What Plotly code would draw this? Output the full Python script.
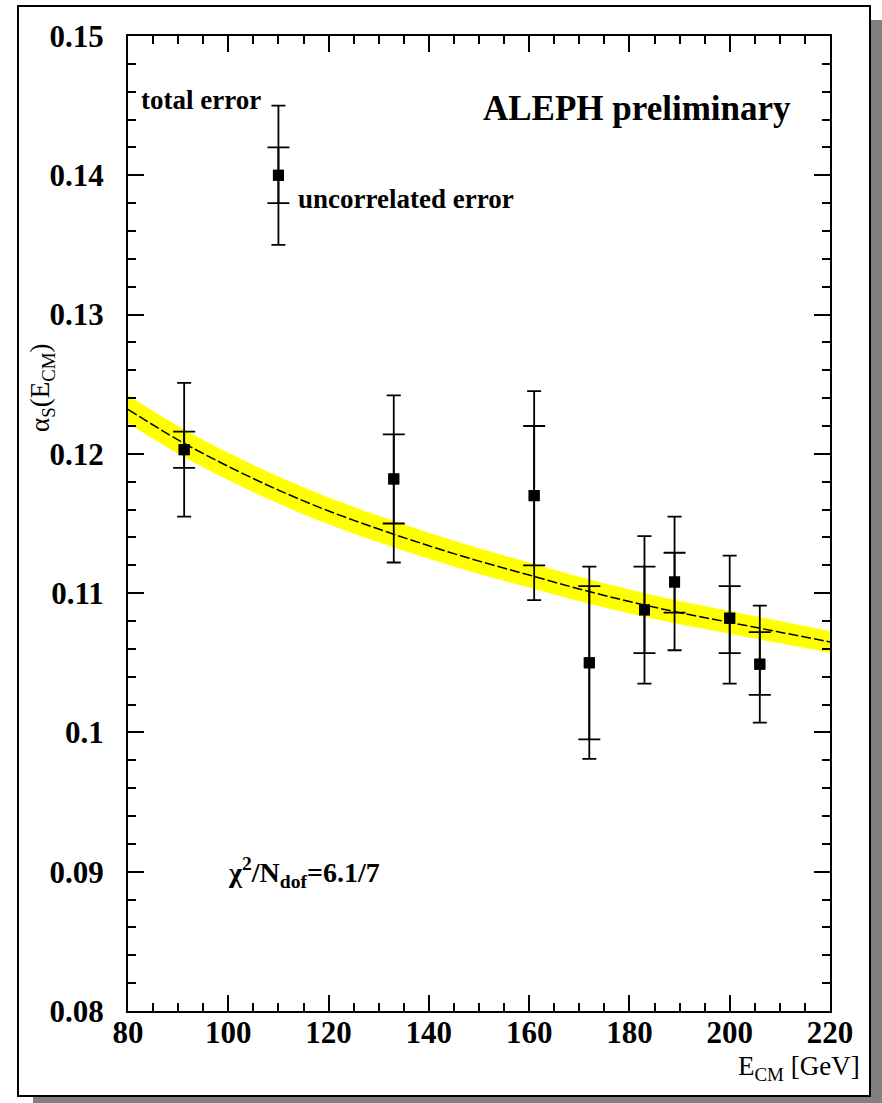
import plotly.graph_objects as go

# ---------------- data ----------------
energy = [91.2, 133.0, 161.0, 172.0, 183.0, 189.0, 200.0, 206.0]
alpha_s = [0.1203, 0.1182, 0.1170, 0.1050, 0.1088, 0.1108, 0.1082, 0.1049]
total_hi = [0.1251, 0.1242, 0.1245, 0.1119, 0.1141, 0.1155, 0.1127, 0.1091]
total_lo = [0.1155, 0.1122, 0.1095, 0.0981, 0.1035, 0.1059, 0.1035, 0.1007]
uncorr_hi = [0.1216, 0.1214, 0.1220, 0.1105, 0.1119, 0.1129, 0.1105, 0.1072]
uncorr_lo = [0.1190, 0.1150, 0.1120, 0.0995, 0.1057, 0.1086, 0.1057, 0.1027]

# legend example point
legend_energy = [110.0]
legend_alpha = [0.140]
legend_total_hi = [0.145]
legend_total_lo = [0.135]
legend_uncorr_hi = [0.142]
legend_uncorr_lo = [0.138]

# fitted running curve and band half-width
fit_energy = [80, 90, 100, 110, 120, 130, 140, 150, 160, 170, 180, 190, 200, 210, 220]
fit_alpha = [0.1232, 0.1210, 0.1191, 0.1174, 0.1159, 0.1146, 0.1134, 0.1123,
             0.1113, 0.1103, 0.1094, 0.1086, 0.1079, 0.1072, 0.1065]
fit_band = [0.00100, 0.00099, 0.00098, 0.00097, 0.00096, 0.00095, 0.00093, 0.00092,
            0.00090, 0.00088, 0.00086, 0.00084, 0.00082, 0.00080, 0.00078]

x_tick_vals = [80, 100, 120, 140, 160, 180, 200, 220]
x_tick_text = ["80", "100", "120", "140", "160", "180", "200", "220"]
y_tick_vals = [0.08, 0.09, 0.10, 0.11, 0.12, 0.13, 0.14, 0.15]
y_tick_text = ["0.08", "0.09", "0.1", "0.11", "0.12", "0.13", "0.14", "0.15"]

# ---------------- figure ----------------
W, H = 882, 1103
ML, MR, MT, MB = 128, 52, 36, 92
PW, PH = W - ML - MR, H - MT - MB


def px(xp):
    return (xp - ML) / PW


def py(yp):
    return (H - MB - yp) / PH


SERIF = "Liberation Serif, Times New Roman, serif"

fig = go.Figure()

band_lo = [a - b for a, b in zip(fit_alpha, fit_band)]
band_hi = [a + b for a, b in zip(fit_alpha, fit_band)]
fig.add_trace(go.Scatter(x=fit_energy, y=band_lo, mode="lines",
                         line=dict(width=0, shape="spline", color="#ffff00"),
                         hoverinfo="skip", showlegend=False))
fig.add_trace(go.Scatter(x=fit_energy, y=band_hi, mode="lines", fill="tonexty",
                         fillcolor="#ffff00",
                         line=dict(width=0, shape="spline", color="#ffff00"),
                         hoverinfo="skip", showlegend=False))
fig.add_trace(go.Scatter(x=fit_energy, y=fit_alpha, mode="lines",
                         line=dict(width=1.5, color="black", shape="spline", dash="10px,3px"),
                         showlegend=False))


def add_points(xs, ys, thi, tlo, uhi, ulo):
    fig.add_trace(go.Scatter(
        x=xs, y=ys, mode="markers",
        marker=dict(symbol="square", size=11, color="black"),
        error_y=dict(type="data", symmetric=False,
                     array=[h - y for h, y in zip(thi, ys)],
                     arrayminus=[y - l for l, y in zip(tlo, ys)],
                     color="black", thickness=1.8, width=7),
        showlegend=False))
    fig.add_trace(go.Scatter(
        x=xs, y=ys, mode="markers",
        marker=dict(symbol="square", size=11, color="black"),
        error_y=dict(type="data", symmetric=False,
                     array=[h - y for h, y in zip(uhi, ys)],
                     arrayminus=[y - l for l, y in zip(ulo, ys)],
                     color="black", thickness=1.8, width=11),
        showlegend=False))


add_points(energy, alpha_s, total_hi, total_lo, uncorr_hi, uncorr_lo)
add_points(legend_energy, legend_alpha, legend_total_hi, legend_total_lo,
           legend_uncorr_hi, legend_uncorr_lo)

tickfont = dict(family=SERIF, size=31, color="black", weight="bold")

fig.update_xaxes(range=[80, 220], tickmode="array", tickvals=x_tick_vals, ticktext=x_tick_text,
                 ticks="inside", ticklen=16, tickwidth=1.5, tickcolor="black",
                 minor=dict(dtick=5, tick0=80, ticks="inside", ticklen=8, tickwidth=1.5, tickcolor="black"),
                 showline=True, linewidth=2, linecolor="black", mirror="ticks",
                 showgrid=False, zeroline=False, tickfont=tickfont, ticklabelstandoff=-7)
fig.update_yaxes(range=[0.08, 0.15], tickmode="array", tickvals=y_tick_vals, ticktext=y_tick_text,
                 ticks="inside", ticklen=16, tickwidth=1.5, tickcolor="black",
                 minor=dict(dtick=0.002, tick0=0.08, ticks="inside", ticklen=8, tickwidth=1.5, tickcolor="black"),
                 showline=True, linewidth=2, linecolor="black", mirror="ticks",
                 showgrid=False, zeroline=False, tickfont=tickfont, ticklabelstandoff=16)

shapes = [
    # drop shadow
    dict(type="rect", xref="paper", yref="paper", x0=px(871), x1=px(884), y0=py(1105), y1=py(20),
         fillcolor="#808080", line=dict(width=0), layer="below"),
    dict(type="rect", xref="paper", yref="paper", x0=px(33), x1=px(884), y0=py(1105), y1=py(1097),
         fillcolor="#808080", line=dict(width=0), layer="below"),
    # outer frame
    dict(type="rect", xref="paper", yref="paper", x0=px(18), x1=px(870), y0=py(1096), y1=py(6),
         line=dict(width=2, color="black"), fillcolor="rgba(0,0,0,0)", layer="below"),
]

annotations = [
    dict(text="ALEPH preliminary", xref="paper", yref="paper", x=px(793), y=py(108),
         xanchor="right", yanchor="middle", showarrow=False,
         font=dict(family=SERIF, size=35, color="black", weight="bold")),
    dict(text="total error", xref="paper", yref="paper", x=px(263), y=py(100),
         xanchor="right", yanchor="middle", showarrow=False,
         font=dict(family=SERIF, size=27, color="black", weight="bold")),
    dict(text="uncorrelated error", xref="paper", yref="paper", x=px(296), y=py(199),
         xanchor="left", yanchor="middle", showarrow=False,
         font=dict(family=SERIF, size=27, color="black", weight="bold")),
    dict(text="χ<sup>2</sup>/N<sub>dof</sub>=6.1/7", xref="paper", yref="paper", x=px(226), y=py(872),
         xanchor="left", yanchor="middle", showarrow=False,
         font=dict(family=SERIF, size=28, color="black", weight="bold")),
    dict(text="α<sub>S</sub>(E<sub>CM</sub>)", xref="paper", yref="paper", x=px(42), y=py(388),
         xanchor="center", yanchor="middle", textangle=-90, showarrow=False,
         font=dict(family=SERIF, size=27, color="black")),
    dict(text="E<sub>CM</sub> [GeV]", xref="paper", yref="paper", x=px(862), y=py(1068),
         xanchor="right", yanchor="middle", showarrow=False,
         font=dict(family=SERIF, size=27, color="black")),
]

fig.update_layout(width=W, height=H, autosize=False,
                  margin=dict(l=ML, r=MR, t=MT, b=MB, pad=0),
                  paper_bgcolor="white", plot_bgcolor="white",
                  showlegend=False, shapes=shapes, annotations=annotations)

fig.write_html("out.html")
